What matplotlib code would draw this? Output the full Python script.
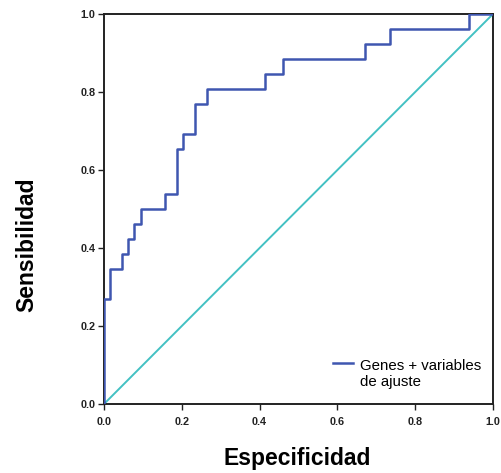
import numpy as np
import matplotlib
matplotlib.use("Agg")
import matplotlib.pyplot as plt
from matplotlib.legend_handler import HandlerLine2D

plt.rcParams['font.family'] = ['Liberation Sans', 'DejaVu Sans']

# ROC curve vertices (1 - specificity, sensitivity)
fpr = [0.0, 0.0, 0.016, 0.047, 0.062, 0.078, 0.094, 0.156, 0.188, 0.203,
       0.234, 0.266, 0.414, 0.461, 0.672, 0.734, 0.938, 1.0]
tpr = [0.0, 0.269, 0.346, 0.385, 0.423, 0.462, 0.500, 0.538, 0.654, 0.692,
       0.769, 0.808, 0.846, 0.885, 0.923, 0.962, 1.0, 1.0]
ref_line = [0.0, 1.0]
ticks = [0.0, 0.2, 0.4, 0.6, 0.8, 1.0]
tick_labels = ["0.0", "0.2", "0.4", "0.6", "0.8", "1.0"]
series_label = "Genes + variables\nde ajuste"

BLUE = "#3f56b0"
TEAL = "#43c1c3"


class TopAlignedLine(HandlerLine2D):
    """Legend line placed beside the first line of a two-line label."""
    def __init__(self, shift, **kw):
        super().__init__(**kw)
        self.shift = shift

    def create_artists(self, legend, orig_handle, xdescent, ydescent,
                       width, height, fontsize, trans):
        arts = super().create_artists(legend, orig_handle, xdescent, ydescent,
                                      width, height, fontsize, trans)
        for a in arts:
            a.set_ydata(np.asarray(a.get_ydata(), dtype=float) + self.shift)
        return arts


fig = plt.figure(figsize=(5.02, 4.73), dpi=100)
ax = fig.add_axes([104 / 502, 1 - 404 / 473, 389 / 502, 390 / 473])

ax.plot(ref_line, ref_line, color=TEAL, lw=1.4, zorder=2)
roc, = ax.plot(fpr, tpr, color=BLUE, lw=1.8, drawstyle="steps-post",
               label=series_label, zorder=3)

ax.set_xlim(0, 1)
ax.set_ylim(0, 1)
ax.set_xticks(ticks)
ax.set_yticks(ticks)
ax.set_xticklabels(tick_labels, fontweight="bold")
ax.set_yticklabels(tick_labels, fontweight="bold")
ax.tick_params(direction="out", length=4, width=1, labelsize=7.8,
               colors="#222222", pad=2)
ax.tick_params(axis="x", pad=5)
for s in ax.spines.values():
    s.set_linewidth(1.4)
    s.set_color("#222222")

fig.text(297 / 502, 1 - 458 / 473, "Especificidad", ha="center", va="center",
         fontsize=16.5, fontweight="bold")
fig.text(27 / 502, 1 - 245 / 473, "Sensibilidad", ha="center", va="center",
         rotation=90, fontsize=16.5, fontweight="bold")

leg = ax.legend(handles=[roc], loc="upper left",
                bbox_to_anchor=((333 - 104) / 389, (404 - 359) / 390),
                frameon=False, fontsize=10.8, handlelength=1.33,
                handletextpad=0.47, borderpad=0, borderaxespad=0,
                handler_map={roc: TopAlignedLine(shift=8.5)})
for t in leg.get_texts():
    t.set_linespacing(1.22)

fig.savefig("out.png", dpi=100)
